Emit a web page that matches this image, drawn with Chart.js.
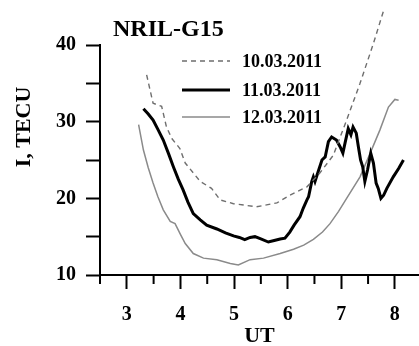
<!DOCTYPE html>
<html>
<head>
<meta charset="utf-8">
<script src="https://cdn.jsdelivr.net/npm/chart.js@4/dist/chart.umd.min.js"></script>
<style>
  html, body { margin: 0; padding: 0; background: #fff; }
  canvas { display: block; }
</style>
</head>
<body>
<canvas id="myChart" width="419" height="346"></canvas>
<script>
// data (UT hours, TEC units)
const labels = ['10.03.2011', '11.03.2011', '12.03.2011'];

const ut10 = [3.37, 3.49, 3.65, 3.74, 3.84, 3.99, 4.09, 4.37, 4.58, 4.74, 4.99, 5.42, 5.80, 6.04, 6.36, 6.60, 6.85, 7.10, 7.35, 7.60, 7.79];
const tec10 = [36.1, 32.4, 32.0, 29.3, 27.8, 26.5, 24.6, 22.2, 21.3, 19.8, 19.3, 18.9, 19.4, 20.4, 21.5, 23.3, 25.6, 30.2, 35.0, 40.2, 44.5];

const ut11 = [3.31, 3.40, 3.49, 3.58, 3.68, 3.78, 3.87, 3.96, 4.05, 4.14, 4.24, 4.37, 4.49, 4.68, 4.84, 4.99, 5.10, 5.20, 5.30, 5.39, 5.50, 5.64, 5.75, 5.86, 5.95, 6.04, 6.12, 6.23, 6.29, 6.36, 6.39, 6.45, 6.48, 6.51, 6.57, 6.64, 6.70, 6.76, 6.82, 6.91, 6.98, 7.03, 7.07, 7.13, 7.18, 7.22, 7.28, 7.32, 7.36, 7.40, 7.44, 7.49, 7.55, 7.60, 7.65, 7.69, 7.74, 7.79, 7.85, 7.97, 8.07, 8.16];
const tec11 = [31.7, 31.0, 30.2, 29.0, 27.6, 25.8, 24.1, 22.5, 21.1, 19.5, 18.0, 17.2, 16.5, 16.0, 15.5, 15.1, 14.9, 14.6, 14.9, 15.0, 14.7, 14.3, 14.5, 14.7, 14.8, 15.6, 16.5, 17.6, 18.7, 19.8, 20.2, 22.2, 22.8, 22.2, 23.5, 25.0, 25.4, 27.4, 28.0, 27.6, 26.7, 25.9, 27.2, 29.1, 28.3, 29.3, 28.5, 26.7, 25.0, 24.1, 22.2, 23.7, 25.9, 24.6, 22.0, 21.3, 20.0, 20.4, 21.3, 22.8, 23.9, 25.0];

const ut12 = [3.22, 3.31, 3.40, 3.49, 3.58, 3.68, 3.81, 3.90, 4.00, 4.09, 4.24, 4.43, 4.68, 4.93, 5.08, 5.30, 5.55, 5.86, 6.11, 6.30, 6.48, 6.65, 6.79, 6.95, 7.10, 7.35, 7.54, 7.72, 7.88, 8.00, 8.07];
const tec12 = [29.6, 26.3, 24.0, 22.0, 20.2, 18.5, 17.0, 16.7, 15.3, 14.1, 12.8, 12.2, 12.0, 11.5, 11.3, 12.0, 12.2, 12.8, 13.35, 13.9, 14.65, 15.6, 16.7, 18.3, 20.0, 22.8, 25.9, 28.9, 31.9, 32.9, 32.8];

const xMajor = [3, 4, 5, 6, 7, 8];
const xMinor = [2.5, 3.5, 4.5, 5.5, 6.5, 7.5];

function pts(xs, ys) {
    return xs.map((x, i) => ({ x: x, y: ys[i] }));
}

const serif = 'Liberation Serif';

// title, y label, legend inside the plot and the short half-hour ticks
const extras = {
    id: 'extras',
    afterDraw(chart) {
        const ctx = chart.ctx;
        const xs = chart.scales.x;
        ctx.save();
        ctx.strokeStyle = '#000';
        ctx.lineWidth = 2;
        xMinor.forEach(v => {
            const px = xs.getPixelForValue(v);
            ctx.beginPath();
            ctx.moveTo(px, xs.top);
            ctx.lineTo(px, xs.top + 9);
            ctx.stroke();
        });

        ctx.fillStyle = '#000';
        ctx.font = 'bold 24px "' + serif + '"';
        ctx.textBaseline = 'middle';
        ctx.textAlign = 'left';
        ctx.fillText('NRIL-G15', 113, 30);

        ctx.save();
        ctx.translate(24, 127);
        ctx.rotate(-Math.PI / 2);
        ctx.textAlign = 'center';
        ctx.font = 'bold 22px "' + serif + '"';
        ctx.fillText('I, TECU', 0, 0);
        ctx.restore();

        const rows = [61, 90, 117];
        ctx.font = 'bold 18px "' + serif + '"';
        chart.data.datasets.forEach((ds, i) => {
            ctx.beginPath();
            ctx.strokeStyle = ds.borderColor;
            ctx.lineWidth = ds.borderWidth;
            ctx.setLineDash(ds.borderDash || []);
            ctx.moveTo(182, rows[i]);
            ctx.lineTo(230, rows[i]);
            ctx.stroke();
            ctx.setLineDash([]);
            ctx.fillText(ds.label, 242, rows[i] + 1);
        });
        ctx.restore();
    }
};

const ctx = document.getElementById('myChart').getContext('2d');
const myChart = new Chart(ctx, {
    type: 'line',
    data: {
        datasets: [{
            label: labels[0],
            data: pts(ut10, tec10),
            borderColor: '#6e6e6e',
            borderWidth: 1.4,
            borderDash: [5, 4],
            clip: false
        }, {
            label: labels[1],
            data: pts(ut11, tec11),
            borderColor: '#000',
            borderWidth: 3
        }, {
            label: labels[2],
            data: pts(ut12, tec12),
            borderColor: '#8a8a8a',
            borderWidth: 1.5
        }]
    },
    options: {
        responsive: false,
        animation: false,
        elements: { point: { radius: 0 }, line: { tension: 0 } },
        layout: { padding: { top: 45, left: 0, right: 0, bottom: 0 } },
        plugins: {
            legend: { display: false },
            tooltip: { enabled: false }
        },
        scales: {
            x: {
                type: 'linear',
                min: 2.5,
                max: 8.45,
                afterFit: s => { s.height = 71; },
                afterBuildTicks: s => { s.ticks = xMajor.map(v => ({ value: v })); },
                border: { color: '#000', width: 2 },
                grid: { drawOnChartArea: false, drawTicks: true, tickLength: 14, tickWidth: 2, tickColor: '#000' },
                ticks: { color: '#000', padding: 14, font: { family: serif, size: 20, weight: 'bold' } },
                title: { display: true, text: 'UT', color: '#000', padding: { top: 0, bottom: -4 }, font: { family: serif, size: 22, weight: 'bold' } }
            },
            y: {
                min: 10,
                max: 40,
                afterFit: s => { s.width = 100; },
                border: { color: '#000', width: 2 },
                grid: { drawOnChartArea: false, drawTicks: true, tickLength: 14, tickWidth: 2, tickColor: '#000' },
                ticks: {
                    stepSize: 5,
                    color: '#000',
                    padding: 10,
                    font: { family: serif, size: 20, weight: 'bold' },
                    callback: v => (v % 10 === 0 ? v : '')
                }
            }
        }
    },
    plugins: [extras]
});
</script>
</body>
</html>
